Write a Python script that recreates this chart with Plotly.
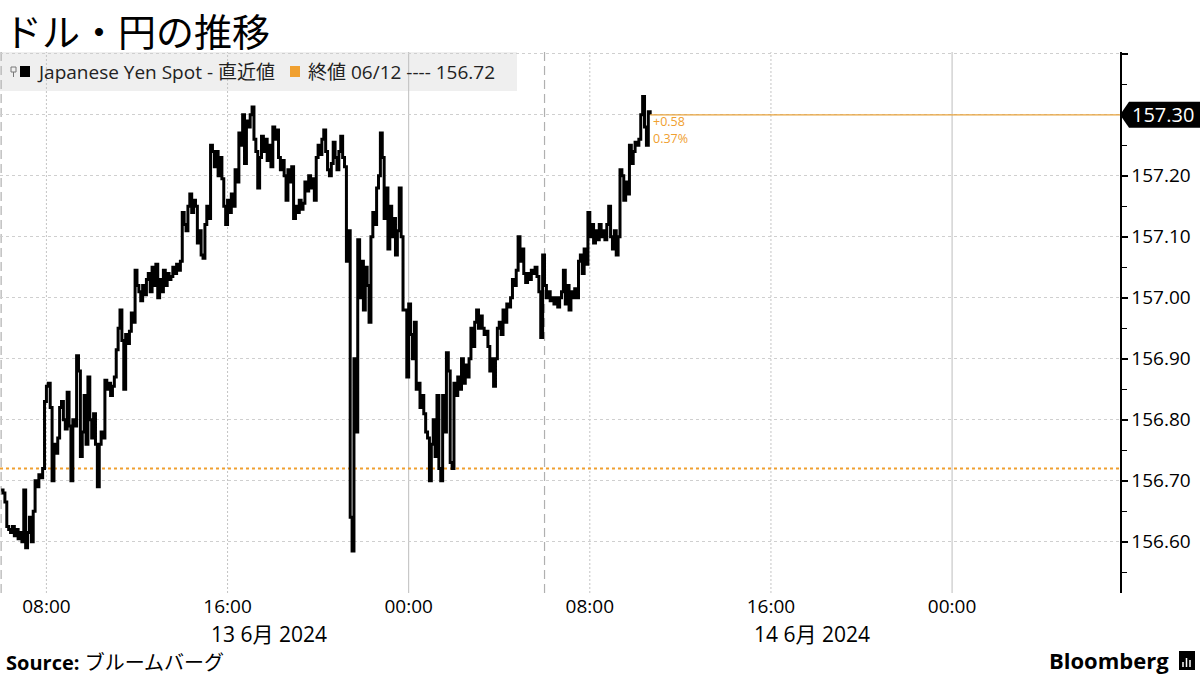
import pandas as pd
import plotly.graph_objects as go

# ---------------- data ----------------
start_time = "2024-06-13 06:00"
interval = "5min"
usdjpy = [
    156.685, 156.680, 156.665, 156.625, 156.620, 156.615, 156.625, 156.610, 156.620, 156.605,
    156.615, 156.600, 156.685, 156.590, 156.615, 156.640, 156.600, 156.650, 156.700, 156.690,
    156.710, 156.705, 156.720, 156.830, 156.855, 156.860, 156.820, 156.700, 156.760, 156.745,
    156.770, 156.820, 156.830, 156.800, 156.785, 156.845, 156.790, 156.700, 156.800, 156.790,
    156.905, 156.880, 156.740, 156.780, 156.840, 156.760, 156.870, 156.800, 156.770, 156.810,
    156.760, 156.690, 156.760, 156.780, 156.770, 156.865, 156.850, 156.860, 156.840, 156.855,
    156.870, 156.915, 156.950, 156.980, 156.930, 156.850, 156.940, 156.925, 156.945, 156.975,
    156.960, 157.045, 157.020, 157.010, 156.995, 157.020, 157.005, 157.030, 157.040, 157.010,
    157.050, 157.020, 157.055, 157.000, 157.030, 157.010, 157.045, 157.020, 157.040, 157.030,
    157.035, 157.050, 157.040, 157.055, 157.045, 157.060, 157.140, 157.120, 157.110, 157.150,
    157.170, 157.140, 157.160, 157.150, 157.090, 157.110, 157.070, 157.065, 157.120, 157.150,
    157.130, 157.250, 157.240, 157.215, 157.240, 157.200, 157.230, 157.195, 157.150, 157.120,
    157.160, 157.140, 157.170, 157.150, 157.210, 157.190, 157.270, 157.250, 157.300, 157.220,
    157.290, 157.280, 157.300, 157.313, 157.260, 157.240, 157.180, 157.230, 157.265, 157.240,
    157.260, 157.225, 157.250, 157.215, 157.280, 157.260, 157.275, 157.230, 157.210, 157.225,
    157.200, 157.160, 157.210, 157.190, 157.215, 157.130, 157.150, 157.140, 157.160, 157.145,
    157.155, 157.190, 157.175, 157.200, 157.180, 157.195, 157.160, 157.230, 157.250, 157.235,
    157.260, 157.275, 157.240, 157.210, 157.200, 157.220, 157.255, 157.230, 157.210, 157.240,
    157.265, 157.230, 157.215, 157.060, 157.110, 156.640, 156.585, 156.900, 156.780, 157.095,
    157.000, 157.060, 156.980, 157.050, 157.020, 156.960, 157.100, 157.140, 157.120, 157.180,
    157.200, 157.270, 157.230, 157.130, 157.180, 157.080, 157.150, 157.100, 157.130, 157.070,
    157.110, 157.180, 157.100, 156.980, 156.980, 156.870, 156.990, 156.940, 156.900, 156.960,
    156.850, 156.860, 156.820, 156.840, 156.810, 156.780, 156.770, 156.700, 156.760, 156.800,
    156.740, 156.840, 156.720, 156.700, 156.840, 156.780, 156.910, 156.880, 156.730, 156.720,
    156.860, 156.840, 156.870, 156.850, 156.900, 156.860, 156.890, 156.870, 156.900, 156.950,
    156.920, 156.960, 156.980, 156.950, 156.970, 156.950, 156.940, 156.945, 156.920, 156.880,
    156.900, 156.855, 156.900, 156.950, 156.960, 156.940, 156.980, 156.960, 156.990, 156.985,
    157.000, 157.030, 157.020, 157.045, 157.100, 157.060, 157.080, 157.040, 157.025, 157.040,
    157.030, 157.045, 157.040, 157.050, 157.035, 157.010, 156.935, 157.070, 157.020, 157.000,
    157.010, 156.995, 157.000, 156.990, 157.000, 156.985, 157.000, 157.010, 157.045, 156.990,
    157.020, 156.980, 157.010, 157.000, 157.015, 157.000, 157.060, 157.070, 157.040, 157.080,
    157.055, 157.140, 157.100, 157.120, 157.090, 157.110, 157.095, 157.120, 157.100, 157.110,
    157.095, 157.120, 157.150, 157.100, 157.080, 157.110, 157.070, 157.100, 157.210, 157.200,
    157.160, 157.190, 157.170, 157.250, 157.220, 157.240, 157.255, 157.250, 157.260, 157.300,
    157.330, 157.280, 157.250, 157.305, 157.300,
]
prev_close = 156.72
last_price = 157.30
change_text = "+0.58"
change_pct_text = "0.37%"

x_tickvals = ["2024-06-13 08:00", "2024-06-13 16:00", "2024-06-14 00:00",
              "2024-06-14 08:00", "2024-06-14 16:00", "2024-06-15 00:00"]
x_ticktext = ["08:00", "16:00", "00:00", "08:00", "16:00", "00:00"]
midnight_lines = ["2024-06-14 00:00", "2024-06-15 00:00"]
grid_lines = ["2024-06-13 08:00", "2024-06-13 16:00", "2024-06-14 08:00", "2024-06-14 16:00"]
session_lines = ["2024-06-13 06:00", "2024-06-14 06:00"]
date_labels = [("2024-06-13 17:50", "13 6月 2024"), ("2024-06-14 17:50", "14 6月 2024")]
y_tickvals = [156.6, 156.7, 156.8, 156.9, 157.0, 157.1, 157.2, 157.3, 157.4]
y_ticktext = ["156.60", "156.70", "156.80", "156.90", "157.00", "157.10", "157.20", "", ""]
x_range = ["2024-06-13 05:57", "2024-06-15 07:25"]
y_range = [156.516, 157.403]

times = pd.date_range(start_time, periods=len(usdjpy), freq=interval)

# ---------------- layout helpers (pixel -> paper) ----------------
L, R, T, B = 0, 1120, 52, 593
W, H = R - L, B - T
def PX(x):
    return (x - L) / W
def PY(y):
    return (B - y) / H

FONT = "Open Sans, Noto Sans CJK JP, sans-serif"
CJK = "Noto Sans CJK JP, sans-serif"
ORANGE = "#f0a030"

fig = go.Figure()
fig.add_trace(go.Scatter(
    x=times, y=usdjpy, mode="lines", line=dict(color="black", width=3, shape="hv"),
    hoverinfo="skip", showlegend=False))

shapes = []
# legend box
shapes.append(dict(type="rect", xref="paper", yref="paper", x0=PX(0), x1=PX(517), y0=PY(91), y1=PY(52),
                   fillcolor="#efefef", line=dict(width=0), layer="below"))
for t in grid_lines:
    shapes.append(dict(type="line", xref="x", yref="paper", x0=t, x1=t, y0=0, y1=1,
                       line=dict(color="#c4c4c4", width=1, dash="2px,2px"), layer="below"))
for t in midnight_lines:
    shapes.append(dict(type="line", xref="x", yref="paper", x0=t, x1=t, y0=0, y1=1,
                       line=dict(color="#bdbdbd", width=1), layer="below"))
for t in session_lines:
    shapes.append(dict(type="line", xref="x", yref="paper", x0=t, x1=t, y0=0, y1=1,
                       line=dict(color="#b0b0b0", width=1.2, dash="9px,5px"), layer="below"))
# previous close dotted line
shapes.append(dict(type="line", xref="paper", yref="y", x0=0, x1=1, y0=prev_close, y1=prev_close,
                   line=dict(color=ORANGE, width=2, dash="dot"), layer="below"))
# last price line
shapes.append(dict(type="line", xref="x", yref="y", x0=times[-1], x1=x_range[1], y0=last_price, y1=last_price,
                   line=dict(color="#e8a33d", width=1.2)))
# last price tag
ytop, ybot = last_price + 13 / 610, last_price - 13 / 610
shapes.append(dict(type="path", xref="paper", yref="y",
                   path=f"M {PX(1120)} {last_price} L {PX(1129)} {ytop} L {PX(1200)} {ytop} L {PX(1200)} {ybot} L {PX(1129)} {ybot} Z",
                   fillcolor="black", line=dict(width=0)))
# legend squares
shapes.append(dict(type="rect", xref="paper", yref="paper", x0=PX(20), x1=PX(30), y0=PY(77), y1=PY(66),
                   fillcolor="black", line=dict(width=0)))
shapes.append(dict(type="rect", xref="paper", yref="paper", x0=PX(290), x1=PX(300), y0=PY(77), y1=PY(66),
                   fillcolor=ORANGE, line=dict(width=0)))
# tiny legend icon
shapes.append(dict(type="rect", xref="paper", yref="paper", x0=PX(11), x1=PX(16), y0=PY(72), y1=PY(67),
                   fillcolor="rgba(0,0,0,0)", line=dict(color="#777", width=1)))
shapes.append(dict(type="line", xref="paper", yref="paper", x0=PX(13.5), x1=PX(13.5), y0=PY(77), y1=PY(72),
                   line=dict(color="#777", width=1)))
# Bloomberg icon
shapes.append(dict(type="rect", xref="paper", yref="paper", x0=PX(1179), x1=PX(1195), y0=PY(670), y1=PY(651),
                   fillcolor="black", line=dict(width=0)))
for bx, btop in [(1183, 662), (1186.5, 658), (1190, 660)]:
    shapes.append(dict(type="line", xref="paper", yref="paper", x0=PX(bx), x1=PX(bx), y0=PY(667), y1=PY(btop),
                       line=dict(color="white", width=1.5)))

annotations = []
annotations.append(dict(xref="paper", yref="paper", x=PX(3), y=PY(1), text="ドル・円の推移",
                        showarrow=False, xanchor="left", yanchor="top", borderpad=0,
                        font=dict(family=CJK, size=38, color="black")))
annotations.append(dict(xref="paper", yref="paper", x=PX(35), y=PY(72), text="Japanese Yen Spot - 直近値",
                        showarrow=False, xanchor="left", yanchor="middle",
                        font=dict(family=FONT, size=19, color="#222")))
annotations.append(dict(xref="paper", yref="paper", x=PX(306), y=PY(72), text="終値 06/12 ---- 156.72",
                        showarrow=False, xanchor="left", yanchor="middle",
                        font=dict(family=FONT, size=19, color="#222")))
annotations.append(dict(xref="paper", yref="y", x=PX(1163), y=last_price, text=f"{last_price:.2f}",
                        showarrow=False, xanchor="center", yanchor="middle",
                        font=dict(family=FONT, size=20, color="white")))
annotations.append(dict(xref="x", yref="paper", x=times[-1], y=PY(122), text=change_text,
                        showarrow=False, xanchor="left", yanchor="middle", xshift=1,
                        font=dict(family=FONT, size=12.5, color=ORANGE)))
annotations.append(dict(xref="x", yref="paper", x=times[-1], y=PY(138), text=change_pct_text,
                        showarrow=False, xanchor="left", yanchor="middle", xshift=1,
                        font=dict(family=FONT, size=12.5, color=ORANGE)))
for t, txt in date_labels:
    annotations.append(dict(xref="x", yref="paper", x=t, y=PY(634), text=txt,
                            showarrow=False, xanchor="center", yanchor="middle",
                            font=dict(family=FONT, size=21, color="black")))
annotations.append(dict(xref="paper", yref="paper", x=PX(4), y=PY(662), text="<b>Source:</b> ブルームバーグ",
                        showarrow=False, xanchor="left", yanchor="middle",
                        font=dict(family=FONT, size=20, color="black")))
annotations.append(dict(xref="paper", yref="paper", x=PX(1171), y=PY(660), text="<b>Bloomberg</b>",
                        showarrow=False, xanchor="right", yanchor="middle",
                        font=dict(family=FONT, size=22, color="black")))

fig.update_layout(
    width=1200, height=675,
    margin=dict(l=L, r=1200 - R, t=T, b=675 - B),
    paper_bgcolor="white", plot_bgcolor="white",
    shapes=shapes, annotations=annotations,
    showlegend=False,
    xaxis=dict(type="date", range=x_range, tickmode="array", tickvals=x_tickvals, ticktext=x_ticktext,
               showgrid=False, zeroline=False, showline=False, ticks="",
               tickfont=dict(family=FONT, size=19, color="black"), automargin=False),
    yaxis=dict(side="right", range=y_range, tickmode="array", tickvals=y_tickvals, ticktext=y_ticktext,
               showgrid=True, gridcolor="#cfcfcf", griddash="3px,3px", gridwidth=1, zeroline=False,
               showline=True, linecolor="black", linewidth=1.5,
               ticks="outside", ticklen=6, tickwidth=2, tickcolor="black",
               minor=dict(dtick=0.05, tick0=156.55, ticks="outside", ticklen=5, tickwidth=1,
                          tickcolor="black", showgrid=False),
               tickfont=dict(family=FONT, size=19, color="black"), automargin=False),
)

fig.write_html("out.html", config={"displayModeBar": False, "staticPlot": True},
               post_script="document.body.style.margin='0';document.body.style.overflow='hidden';")
